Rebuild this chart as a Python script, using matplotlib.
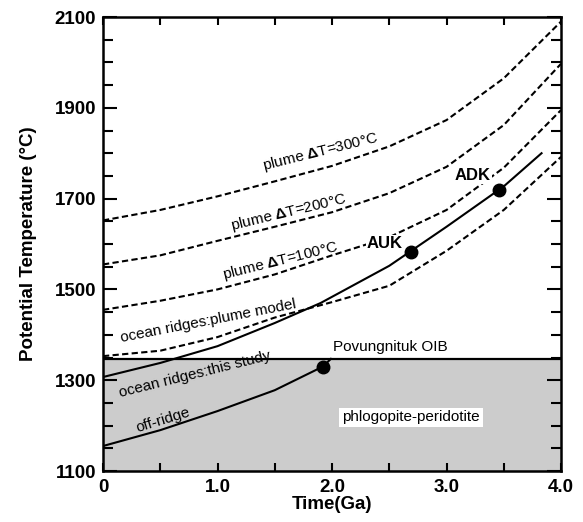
import numpy as np
import matplotlib
matplotlib.use("Agg")
import matplotlib.pyplot as plt
from matplotlib.ticker import MultipleLocator, FixedLocator, FixedFormatter

plt.rcParams['font.family'] = ['Liberation Sans', 'DejaVu Sans']
plt.rcParams['mathtext.fontset'] = 'custom'
plt.rcParams['mathtext.rm'] = 'Liberation Sans'
plt.rcParams['mathtext.bf'] = 'Liberation Sans:bold'

# Curves (time in Ga, potential temperature in C)
t_plume = [0, 0.5, 1.0, 1.5, 2.0, 2.5, 3.0, 3.5, 4.0]
plume300 = [1652, 1675, 1705, 1738, 1772, 1815, 1873, 1965, 2090]
plume200 = [1555, 1575, 1607, 1638, 1670, 1712, 1770, 1862, 1997]
plume100 = [1455, 1475, 1500, 1533, 1575, 1615, 1675, 1768, 1895]
ridge_plume = [1353, 1365, 1395, 1438, 1472, 1508, 1585, 1675, 1792]

this_study_t = [0, 0.5, 1.0, 1.5, 1.9, 2.5, 3.0, 3.5, 3.83]
this_study_T = [1307, 1338, 1375, 1426, 1470, 1552, 1638, 1727, 1800]

off_ridge_t = [0, 0.5, 1.0, 1.5, 1.92, 1.99]
off_ridge_T = [1155, 1190, 1232, 1278, 1330, 1347]

sample_names = ['Povungnituk OIB', 'AUK', 'ADK']
sample_t = [1.92, 2.69, 3.46]
sample_T = [1330, 1582, 1720]

phlog_limit = 1347

fig = plt.figure(figsize=(5.83, 5.22), dpi=100)
ax = fig.add_axes([0.1767, 0.0977, 0.7856, 0.8697])

# phlogopite-peridotite field
ax.fill_between([0, 4], 1100, phlog_limit, color='#cccccc', lw=0, zorder=0)
ax.plot([0, 4], [phlog_limit, phlog_limit], color='black', lw=1.6, zorder=2)

dash = (0, (3, 1.6))
for vals in [plume300, plume200, plume100, ridge_plume]:
    ax.plot(t_plume, vals, color='black', lw=1.5, linestyle=dash, zorder=2)
ax.plot(this_study_t, this_study_T, color='black', lw=1.5, zorder=2)
ax.plot(off_ridge_t, off_ridge_T, color='black', lw=1.5, zorder=2)
ax.plot(sample_t, sample_T, 'o', color='black', ms=9, zorder=5)

fs = 11
ax.text(1.90, 1803, r'plume $\mathbf{\Delta}$T=300°C', rotation=14, fontsize=fs,
        ha='center', va='center', rotation_mode='anchor')
ax.text(1.62, 1670, r'plume $\mathbf{\Delta}$T=200°C', rotation=13.5, fontsize=fs,
        ha='center', va='center', rotation_mode='anchor')
ax.text(1.55, 1563, r'plume $\mathbf{\Delta}$T=100°C', rotation=14, fontsize=fs,
        ha='center', va='center', rotation_mode='anchor')
ax.text(0.92, 1430, 'ocean ridges:plume model', rotation=11, fontsize=fs,
        ha='center', va='center', rotation_mode='anchor')
ax.text(0.80, 1312, 'ocean ridges:this study', rotation=14, fontsize=fs,
        ha='center', va='center', rotation_mode='anchor', zorder=3)
ax.text(0.52, 1212, 'off-ridge', rotation=17, fontsize=fs,
        ha='center', va='center', rotation_mode='anchor')

box = dict(facecolor='white', edgecolor='none', pad=0.5)
ax.text(2.46, 1601, sample_names[1], fontsize=12, fontweight='bold',
        ha='center', va='center', bbox=box, zorder=4)
ax.text(3.23, 1750, sample_names[2], fontsize=12, fontweight='bold',
        ha='center', va='center', bbox=box, zorder=4)
ax.text(2.51, 1373, sample_names[0], fontsize=fs, ha='center', va='center')
ax.text(2.69, 1218, 'phlogopite-peridotite', fontsize=fs, ha='center', va='center',
        bbox=dict(facecolor='white', edgecolor='none', pad=2))

ax.set_xlim(0, 4)
ax.set_ylim(1100, 2100)

ax.xaxis.set_major_locator(FixedLocator([0, 1, 2, 3, 4]))
ax.xaxis.set_major_formatter(FixedFormatter(['0', '1.0', '2.0', '3.0', '4.0']))
ax.xaxis.set_minor_locator(MultipleLocator(0.5))
ax.yaxis.set_major_locator(FixedLocator([1100, 1300, 1500, 1700, 1900, 2100]))
ax.yaxis.set_minor_locator(MultipleLocator(50))

ax.tick_params(axis='both', which='both', direction='in', top=True, right=True, width=1.5)
ax.tick_params(axis='x', which='both', length=5.5, pad=6)
ax.tick_params(axis='y', which='major', length=10, pad=5)
ax.tick_params(axis='y', which='minor', length=7)
for lab in ax.get_xticklabels() + ax.get_yticklabels():
    lab.set_fontsize(13.5)
    lab.set_fontweight('bold')

for sp in ax.spines.values():
    sp.set_linewidth(1.8)

ax.set_xlabel('Time(Ga)', fontsize=13.5, fontweight='bold', labelpad=0)
ax.set_ylabel('Potential Temperature (°C)', fontsize=13.5, fontweight='bold', labelpad=13)

fig.savefig('out.png', dpi=100)
